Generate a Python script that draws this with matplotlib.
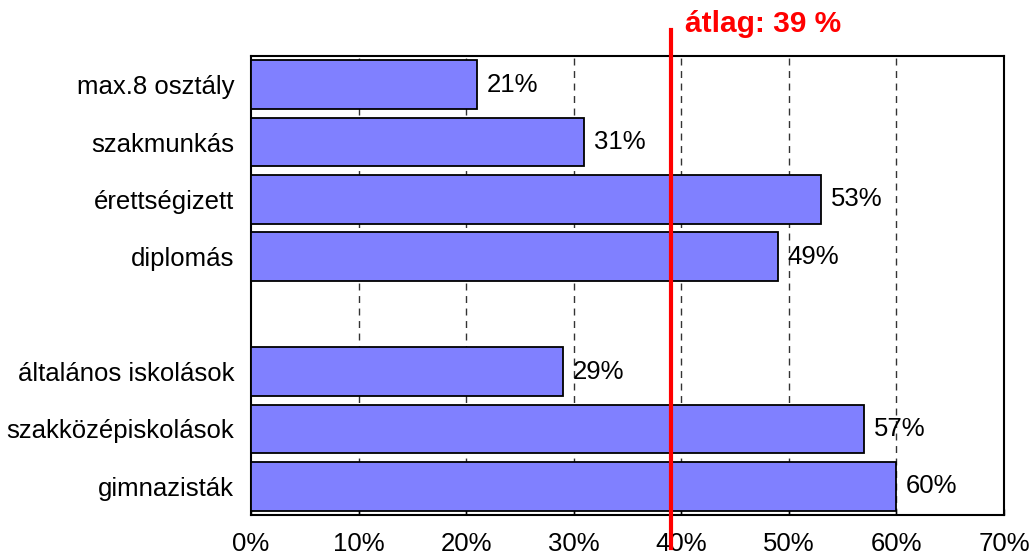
import numpy as np
import matplotlib.pyplot as plt

plt.rcParams['font.family'] = ['Liberation Sans', 'DejaVu Sans']

# Categories top to bottom; None leaves an empty row between the two groups
categories = ['max.8 osztály', 'szakmunkás', 'érettségizett', 'diplomás',
              None,
              'általános iskolások', 'szakközépiskolások', 'gimnazisták']
values = [21, 31, 53, 49, None, 29, 57, 60]
average = 39
xticks = [0, 10, 20, 30, 40, 50, 60, 70]

fig = plt.figure(figsize=(10.32, 5.57), dpi=100)
ax = fig.add_axes([0.2432, 0.0754, 0.7297, 0.8241])

rows = np.arange(len(categories))
for r, cat, v in zip(rows, categories, values):
    if v is None:
        continue
    ax.barh(r, v, height=0.85, color='#8080FF', edgecolor='black',
            linewidth=1.3, zorder=3)
    ax.text(v + 0.9, r, f'{v}%', va='center', ha='left', fontsize=18.5,
            zorder=4)

ax.set_ylim(len(categories) - 0.5, -0.5)
ax.set_yticks([r for r, c in zip(rows, categories) if c is not None])
ax.set_yticklabels([c for c in categories if c is not None], fontsize=18.5)
ax.tick_params(axis='y', length=0, pad=12)

ax.set_xlim(0, 70)
ax.set_xticks(xticks)
ax.set_xticklabels([f'{t}%' for t in xticks], fontsize=18.5)
ax.tick_params(axis='x', direction='in', length=4, width=1, pad=12)

# dashed vertical gridlines at inner ticks
for t in xticks[1:-1]:
    ax.axvline(t, color='#333333', linewidth=1, linestyle=(0, (5, 4)),
               zorder=1)

for s in ax.spines.values():
    s.set_linewidth(1.5)

# average marker line, extends past the plot frame
ax.plot([average, average], [-0.95, len(categories) - 0.5 + 0.58],
        color='#FF0000', linewidth=3, clip_on=False, zorder=5)
ax.text(average + 1.3, -1.05, f'átlag: {average} %', color='#FF0000',
        fontsize=21.5, fontweight='bold', ha='left', va='center')

fig.savefig('out.png', dpi=100)
